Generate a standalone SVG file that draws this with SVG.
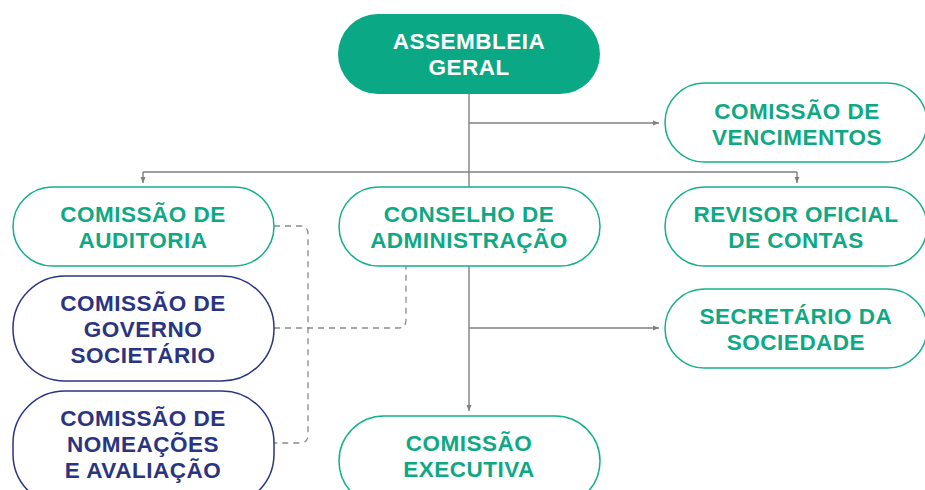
<svg xmlns="http://www.w3.org/2000/svg" width="925" height="490" viewBox="0 0 925 490">
<style>
.pg{fill:#fff;stroke:#13b08a;stroke-width:1.5}
.pb{fill:#fff;stroke:#2b3481;stroke-width:1.5}
.t{font-family:"Liberation Sans",Arial,sans-serif;font-weight:bold;font-size:22.5px;letter-spacing:0.5px;text-anchor:middle}
.g{fill:#0fa884}
.b{fill:#2b3481}
.w{fill:#fff}
.c{fill:none;stroke:#808080;stroke-width:1.4}
.d{fill:none;stroke:#8a8a8a;stroke-width:1.3;stroke-dasharray:6 5}
</style>
<defs>
<marker id="ar" viewBox="0 0 6 6" refX="6" refY="3" markerWidth="6" markerHeight="6" markerUnits="userSpaceOnUse" orient="auto">
<path d="M0,0.5 L6,3 L0,5.5 Z" fill="#808080"/>
</marker>
</defs>
<g id="connectors">
<path class="c" d="M469,94 V411" marker-end="url(#ar)"/>
<path class="c" d="M469,123 H659" marker-end="url(#ar)"/>
<path class="c" d="M143,172 H797"/>
<path class="c" d="M143,172 V183" marker-end="url(#ar)"/>
<path class="c" d="M797,172 V183" marker-end="url(#ar)"/>
<path class="c" d="M469,328 H659" marker-end="url(#ar)"/>
<path class="d" d="M274,226 H300 Q308,226 308,234 V435 Q308,443 300,443 H274"/>
<path class="d" d="M274,328 H398 Q406,328 406,320 V266"/>
</g>
<g id="assembleia">
<rect x="338" y="14" width="262" height="80" rx="40" fill="#0aa884"/>
<text class="t w" x="469" y="49">ASSEMBLEIA</text>
<text class="t w" x="469" y="75">GERAL</text>
</g>
<g id="vencimentos">
<rect class="pg" x="665" y="83" width="262" height="79" rx="39.5"/>
<text class="t g" x="797" y="119">COMISSÃO DE</text>
<text class="t g" x="797" y="145">VENCIMENTOS</text>
</g>
<g id="auditoria">
<rect class="pg" x="13" y="187" width="261" height="79" rx="39.5"/>
<text class="t g" x="143" y="222">COMISSÃO DE</text>
<text class="t g" x="143" y="248">AUDITORIA</text>
</g>
<g id="conselho">
<rect class="pg" x="339" y="187" width="261" height="79" rx="39.5"/>
<text class="t g" x="469" y="222">CONSELHO DE</text>
<text class="t g" x="469" y="248">ADMINISTRAÇÃO</text>
</g>
<g id="revisor">
<rect class="pg" x="665" y="187" width="262" height="79" rx="39.5"/>
<text class="t g" x="796" y="222">REVISOR OFICIAL</text>
<text class="t g" x="796" y="248">DE CONTAS</text>
</g>
<g id="governo">
<rect class="pb" x="13" y="276" width="261" height="105" rx="52"/>
<text class="t b" x="143" y="311">COMISSÃO DE</text>
<text class="t b" x="143" y="337">GOVERNO</text>
<text class="t b" x="143" y="363">SOCIETÁRIO</text>
</g>
<g id="secretario">
<rect class="pg" x="665" y="289" width="262" height="79" rx="39.5"/>
<text class="t g" x="796" y="324">SECRETÁRIO DA</text>
<text class="t g" x="796" y="350">SOCIEDADE</text>
</g>
<g id="nomeacoes">
<rect class="pb" x="13" y="391" width="261" height="115" rx="52"/>
<text class="t b" x="143" y="426">COMISSÃO DE</text>
<text class="t b" x="143" y="452">NOMEAÇÕES</text>
<text class="t b" x="143" y="478">E AVALIAÇÃO</text>
</g>
<g id="executiva">
<rect class="pg" x="339" y="416" width="261" height="90" rx="45"/>
<text class="t g" x="469" y="451">COMISSÃO</text>
<text class="t g" x="469" y="477">EXECUTIVA</text>
</g>
</svg>
